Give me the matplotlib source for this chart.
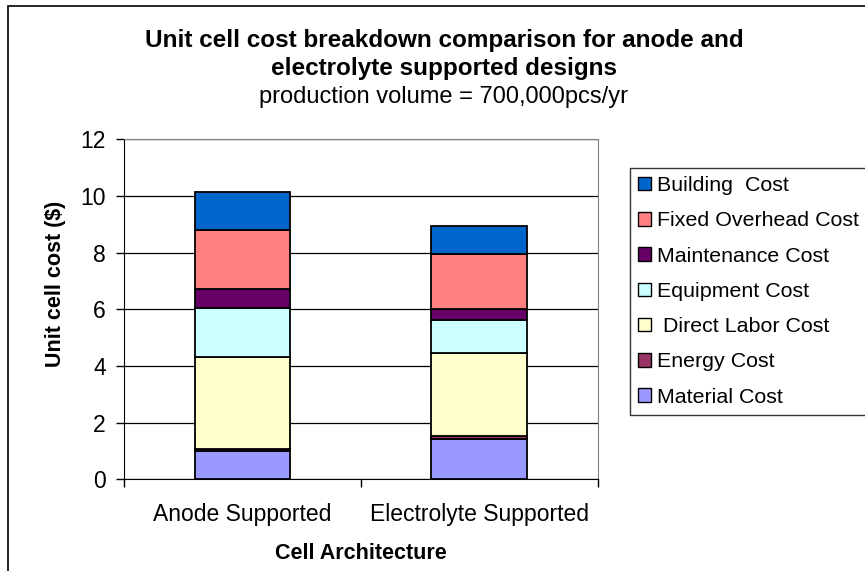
import matplotlib
matplotlib.use("Agg")
import matplotlib.pyplot as plt
from matplotlib.patches import Rectangle, Patch

plt.rcParams['font.family'] = ['Liberation Sans', 'DejaVu Sans']

categories = ["Anode Supported", "Electrolyte Supported"]
components = ["Material Cost", "Energy Cost", " Direct Labor Cost", "Equipment Cost",
              "Maintenance Cost", "Fixed Overhead Cost", "Building  Cost"]
material = [1.00, 1.41]
energy = [0.07, 0.11]
direct_labor = [3.23, 2.93]
equipment = [1.73, 1.16]
maintenance = [0.67, 0.41]
fixed_overhead = [2.10, 1.92]
building = [1.35, 1.00]
colors = ["#9999FF", "#993366", "#FFFFCC", "#CCFFFF", "#660066", "#FF8080", "#0066CC"]

title_lines = ["Unit cell cost breakdown comparison for anode and", "electrolyte supported designs"]
subtitle = "production volume = 700,000pcs/yr"

fig = plt.figure(figsize=(8.65, 5.71), dpi=100)
ax = fig.add_axes([0.1434, 0.1606, 0.5477, 0.5955])

# chart border (only left/top visible in the picture)
fig.patches.append(Rectangle((8 / 865, -0.05), 1.1, 1 - 6 / 571 + 0.05, transform=fig.transFigure,
                             fill=False, edgecolor="black", linewidth=1.2))

series = [material, energy, direct_labor, equipment, maintenance, fixed_overhead, building]
x = list(range(len(categories)))
bottom = [0.0] * len(categories)
handles = []
for name, vals, col in zip(components, series, colors):
    ax.bar(x, vals, width=0.405, bottom=bottom, color=col, edgecolor="black",
           linewidth=1.3, zorder=3)
    bottom = [b + v for b, v in zip(bottom, vals)]
    handles.append(Patch(facecolor=col, edgecolor="black", linewidth=1.0, label=name))

ax.set_xlim(-0.5, 1.5)
ax.set_ylim(0, 12)
ax.set_yticks(range(0, 13, 2))
ax.set_xticks(x)
ax.set_xticklabels(categories, fontsize=16.5)
ax.set_xticks([-0.5, 0.5, 1.5], minor=True)
ax.tick_params(axis="x", which="major", length=0, pad=17)
ax.tick_params(axis="x", which="minor", length=6, direction="out", width=1)
ax.tick_params(axis="y", labelsize=16.5, length=6, direction="out", width=1, pad=7)
ax.yaxis.grid(True, color="black", linewidth=0.9, zorder=0)
ax.set_axisbelow(True)
for s in ["top", "right"]:
    ax.spines[s].set_color("#808080")
ax.spines["left"].set_color("black")
ax.spines["bottom"].set_color("black")

ax.set_ylabel("Unit cell cost ($)", fontsize=15.5, fontweight="bold")
ax.yaxis.set_label_coords(-0.1225, 0.575)
ax.set_xlabel("Cell Architecture", fontsize=15.5, fontweight="bold", labelpad=12)

tx = 444 / 865
fig.text(tx, 1 - 41 / 571, title_lines[0], ha="center", va="center", fontsize=17.5,
         fontweight="bold")
fig.text(tx, 1 - 68 / 571, title_lines[1], ha="center", va="center", fontsize=17.5,
         fontweight="bold")
fig.text(tx, 1 - 97 / 571, subtitle, ha="center", va="center", fontsize=17)

leg = fig.legend(handles=handles[::-1], loc="upper left", bbox_to_anchor=(630 / 865, 1 - 168 / 571),
                 fontsize=15.4, frameon=True, fancybox=False, edgecolor="black",
                 handlelength=0.6, handleheight=0.6, handletextpad=0.3,
                 labelspacing=0.76, borderpad=0.38, borderaxespad=0)
leg.get_frame().set_linewidth(1.0)

fig.savefig("out.png", dpi=100)
